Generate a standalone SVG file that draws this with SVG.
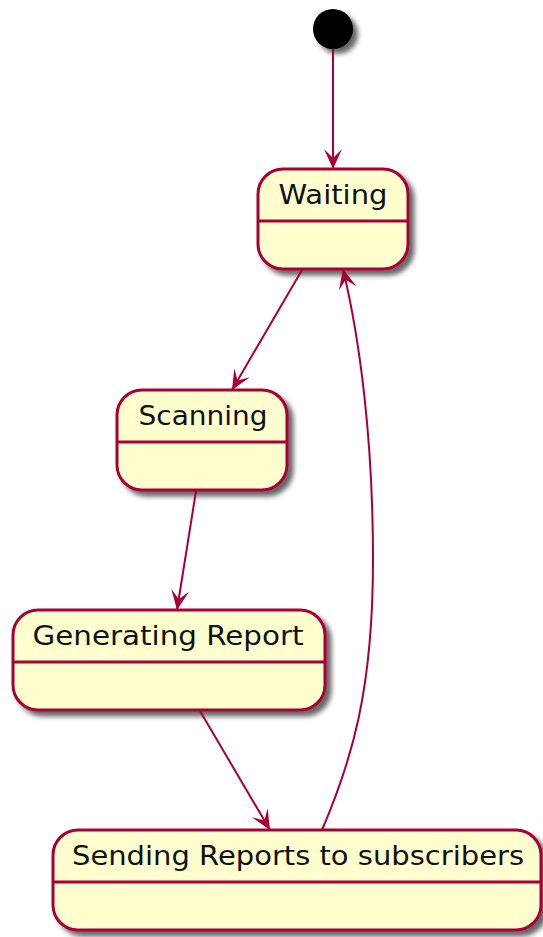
<svg xmlns="http://www.w3.org/2000/svg" width="543" height="937" viewBox="0 0 543 937">
  <style>
    .state rect { fill: #FEFECE; stroke: #A80036; stroke-width: 3; }
    .state line { stroke: #A80036; stroke-width: 3; }
    .state text { font-family: "DejaVu Sans", "Liberation Sans", sans-serif; font-size: 26px; fill: #111111; text-anchor: middle; }
    .edge { fill: none; stroke: #A80036; stroke-width: 2; }
  </style>
  <defs>
    <filter id="shadow" x="-20%" y="-20%" width="150%" height="150%">
      <feGaussianBlur in="SourceAlpha" stdDeviation="2.5" result="blur"/>
      <feOffset in="blur" dx="5" dy="5" result="off"/>
      <feComponentTransfer in="off" result="soft">
        <feFuncA type="linear" slope="0.6"/>
      </feComponentTransfer>
      <feMerge>
        <feMergeNode in="soft"/>
        <feMergeNode in="SourceGraphic"/>
      </feMerge>
    </filter>
    <marker id="arrow" viewBox="0 0 20 18" refX="20" refY="9" markerWidth="20" markerHeight="18" markerUnits="userSpaceOnUse" orient="auto">
      <path d="M0,0 L20,9 L0,18 L9,9 Z" fill="#A80036"/>
    </marker>
  </defs>

  <!-- initial pseudo-state -->
  <g id="start">
    <circle cx="333" cy="29" r="20" fill="#000000" filter="url(#shadow)"/>
  </g>

  <g id="waiting" class="state">
    <rect x="258" y="169" width="150" height="100" rx="25" ry="25" filter="url(#shadow)"/>
    <line x1="258" y1="221" x2="408" y2="221"/>
    <text x="333" y="204" textLength="109" lengthAdjust="spacingAndGlyphs">Waiting</text>
  </g>

  <g id="scanning" class="state">
    <rect x="117" y="390" width="170" height="100" rx="25" ry="25" filter="url(#shadow)"/>
    <line x1="117" y1="442" x2="287" y2="442"/>
    <text x="203" y="425" textLength="129" lengthAdjust="spacingAndGlyphs">Scanning</text>
  </g>

  <g id="generating" class="state">
    <rect x="13" y="610" width="312" height="100" rx="25" ry="25" filter="url(#shadow)"/>
    <line x1="13" y1="662" x2="325" y2="662"/>
    <text x="168" y="645" textLength="271" lengthAdjust="spacingAndGlyphs">Generating Report</text>
  </g>

  <g id="sending" class="state">
    <rect x="53" y="830" width="488" height="100" rx="25" ry="25" filter="url(#shadow)"/>
    <line x1="53" y1="882" x2="541" y2="882"/>
    <text x="298" y="865" textLength="452" lengthAdjust="spacingAndGlyphs">Sending Reports to subscribers</text>
  </g>

  <!-- transitions -->
  <g id="edges">
    <path class="edge" d="M333,49 L333,169" marker-end="url(#arrow)"/>
    <path class="edge" d="M302,270 L232,390" marker-end="url(#arrow)"/>
    <path class="edge" d="M196,491 L177,610" marker-end="url(#arrow)"/>
    <path class="edge" d="M200,711 L270,830" marker-end="url(#arrow)"/>
    <path class="edge" d="M322,830 C352,760 373,690 373,560 C373,440 360,340 343,269" marker-end="url(#arrow)"/>
  </g>
</svg>
